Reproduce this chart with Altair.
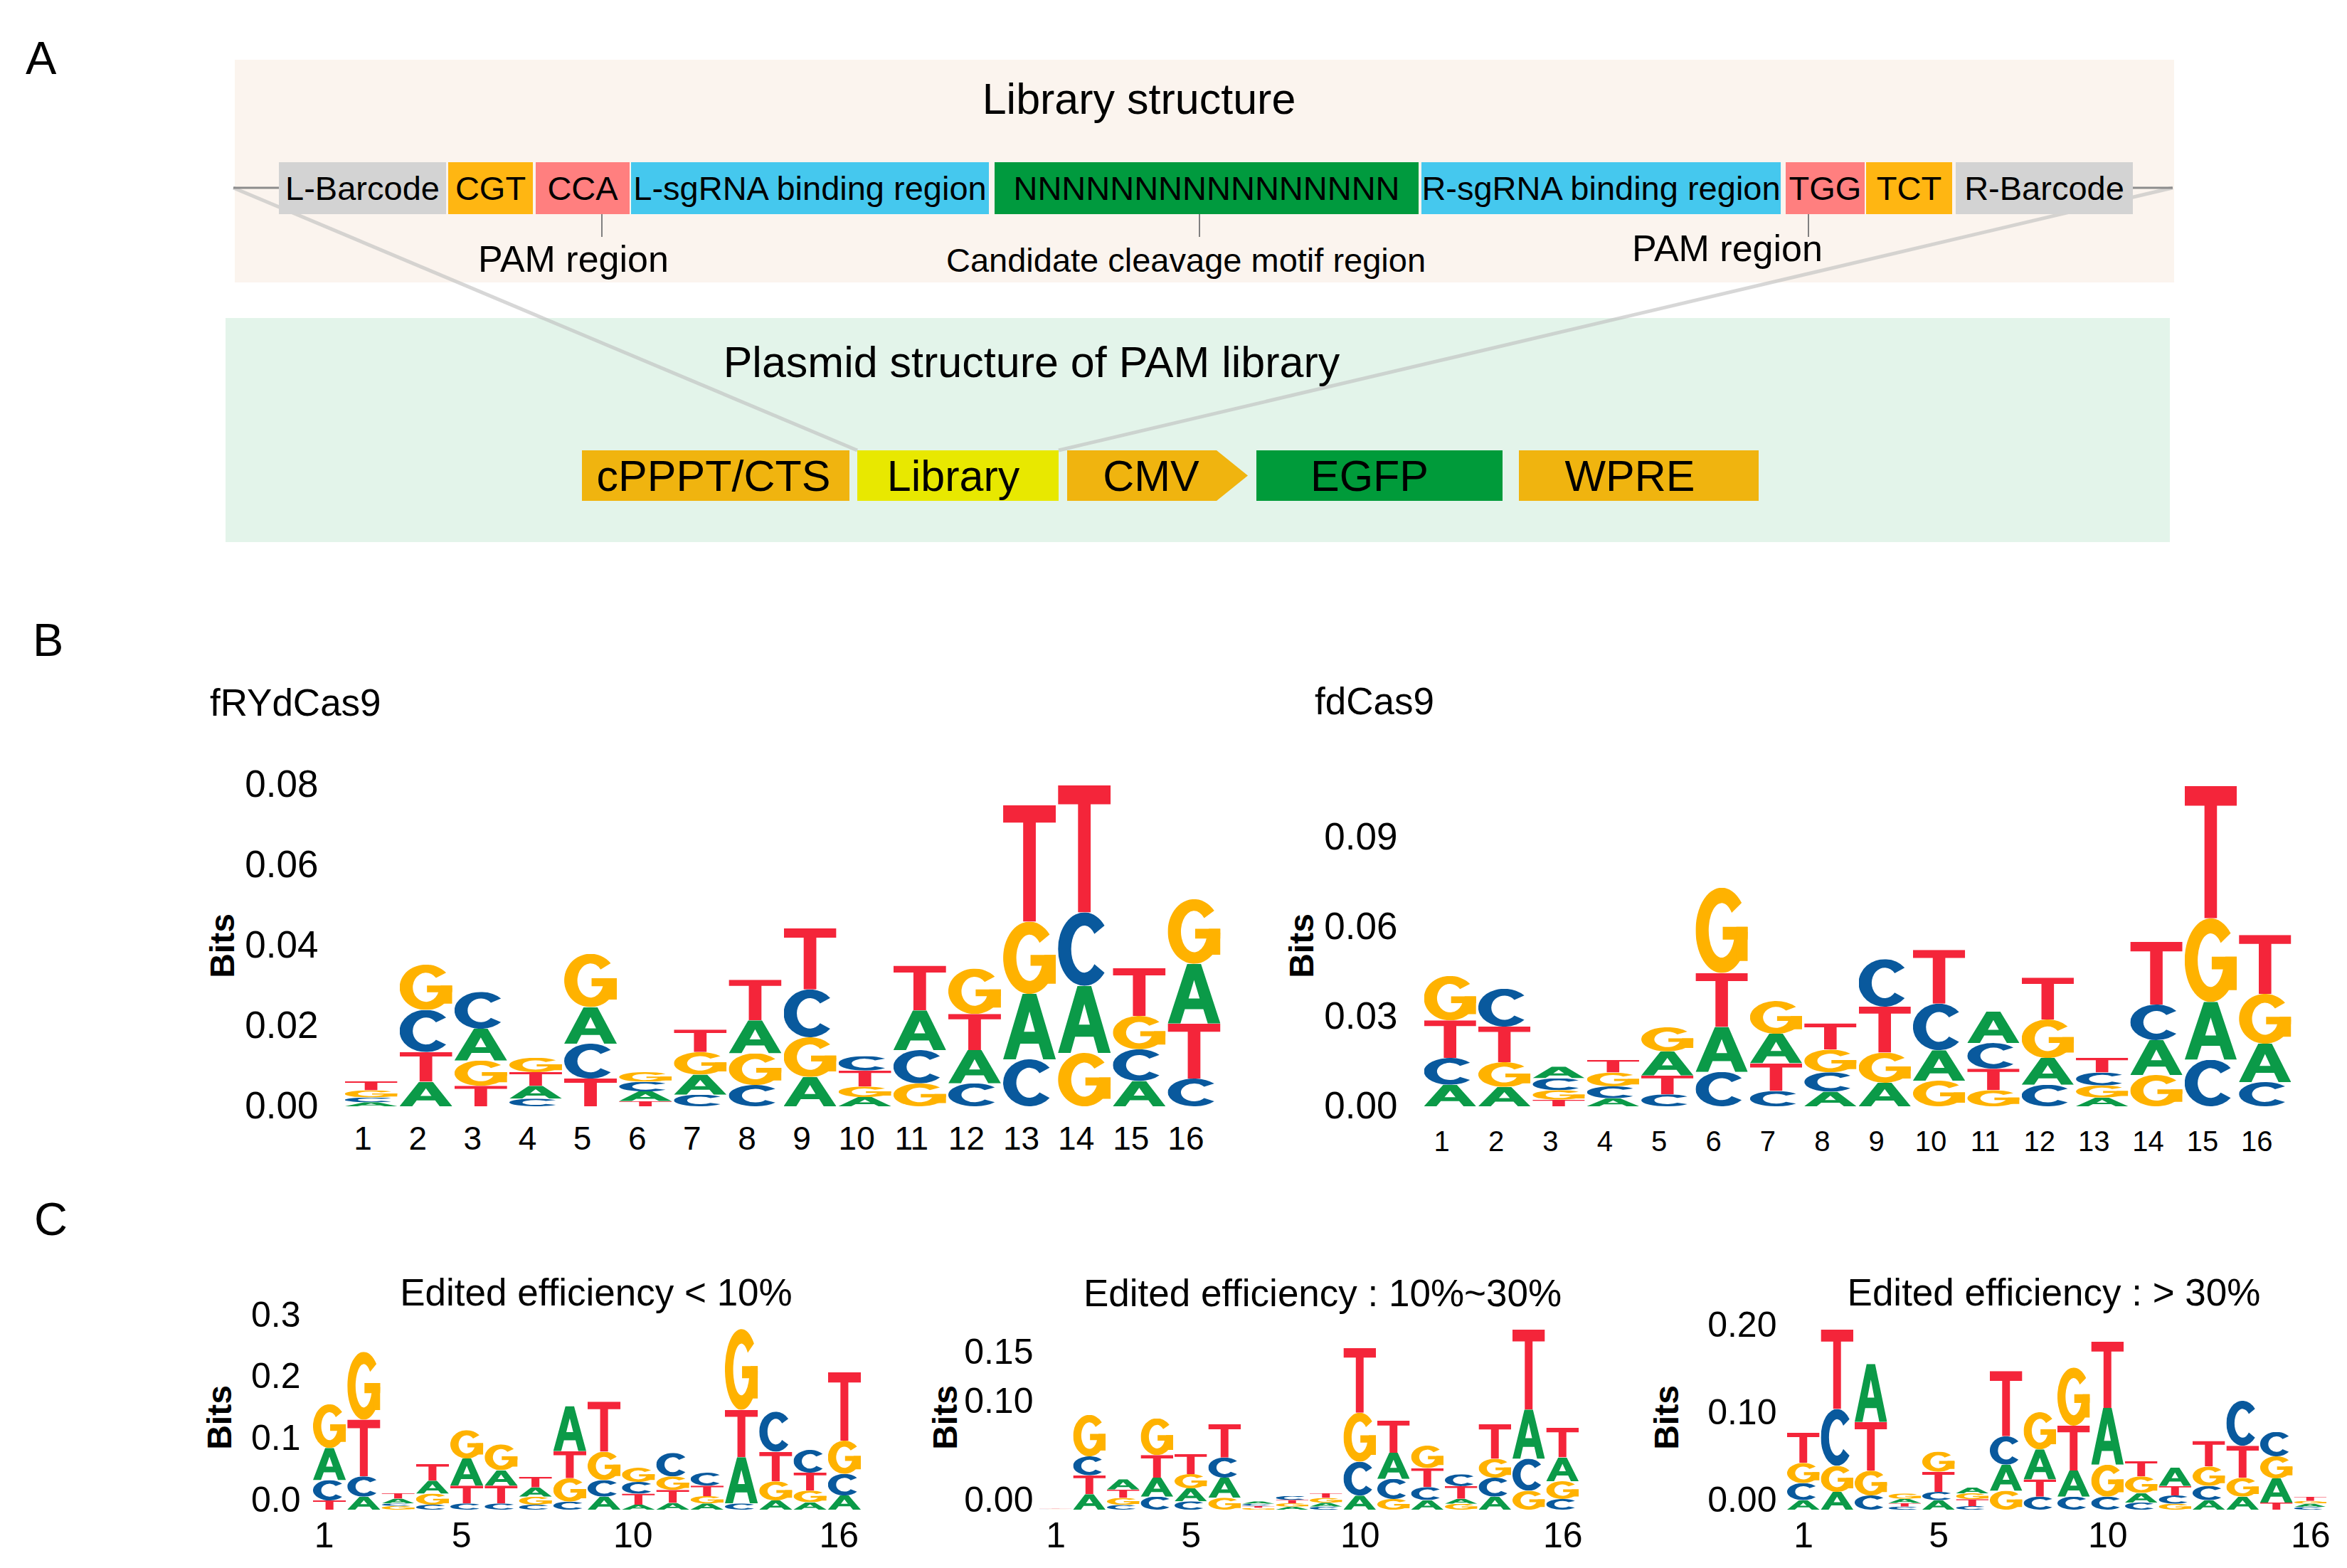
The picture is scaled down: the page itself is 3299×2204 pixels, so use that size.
import base64
import pandas as pd
import altair as alt

FONT = "Liberation Sans"

# ---------------- Panel A : diagram data (page-pixel units) ----------------
BG_X0 = [330, 317]
BG_X1 = [3056, 3050]
BG_Y0 = [84, 447]
BG_Y1 = [397, 762]
BG_COLORS = ["#FBF4EE", "#E3F4EA"]

LIB_LABELS = ["L-Barcode", "CGT", "CCA", "L-sgRNA binding region", "NNNNNNNNNNNNNNNN",
              "R-sgRNA binding region", "TGG", "TCT", "R-Barcode"]
LIB_X0 = [392, 630, 753, 887, 1398, 1998, 2510, 2623, 2749]
LIB_X1 = [627, 749, 885, 1390, 1994, 2503, 2621, 2744, 2998]
LIB_COLORS = ["#D3D3D3", "#FFB612", "#FF7F7F", "#45C8EE", "#009A3E",
              "#45C8EE", "#FF7F7F", "#FFB612", "#D3D3D3"]
LIB_Y0, LIB_Y1, LIB_TEXT_Y = 228, 301, 281

PLA_LABELS = ["cPPPT/CTS", "Library", "EGFP", "WPRE"]
PLA_X0 = [818, 1205, 1766, 2135]
PLA_X1 = [1194, 1488, 2112, 2472]
PLA_COLORS = ["#F0B40F", "#E8E800", "#009B3A", "#F0B40F"]
PLA_TEXT_X = [1003, 1340, 1925, 2291]
CMV_X = [1500, 1710, 1754]
CMV_TOP = [633, 633, 668.5]
CMV_BOT = [704, 704, 668.5]
CMV_TEXT_X = 1618
PLA_Y0, PLA_Y1, PLA_TEXT_Y = 633, 704, 690

CONN_X0 = [328, 2998]
CONN_X1 = [392, 3054]
CONN_Y = [264, 264]
DIAG_X0 = [328, 3054]
DIAG_Y0 = [264, 264]
DIAG_X1 = [1205, 1488]
DIAG_Y1 = [633, 633]
TICK_X = [846, 1686, 2542]
TICK_Y0, TICK_Y1 = 301, 333

NOTE_TEXT = ["Library structure", "Plasmid structure of PAM library", "PAM region",
             "Candidate cleavage motif region", "PAM region"]
NOTE_X = [1601, 1450, 806, 1667, 2428]
NOTE_Y = [160, 530, 382, 382, 367]
NOTE_FS = [61, 61, 52, 47, 52]

# ---------------- Panel B / C : sequence logo data ----------------
B_TITLES = ["fRYdCas9", "fdCas9"]
B_LEFT_LETTERS = ["ACGT", "ATCG", "TGAC", "CATG", "TCAG", "TACG", "CAGT", "CGAT",
                  "AGCT", "AGTC", "GCAT", "CATG", "CAGT", "GACT", "ACGT", "CTAG"]
B_LEFT_BITS = [
    [0.0010, 0.0012, 0.0018, 0.0022], [0.0061, 0.0074, 0.0105, 0.0113],
    [0.0051, 0.0063, 0.0079, 0.0092], [0.0019, 0.0032, 0.0034, 0.0036],
    [0.0069, 0.0087, 0.0091, 0.0133], [0.0013, 0.0024, 0.0024, 0.0024],
    [0.0029, 0.0050, 0.0056, 0.0056], [0.0053, 0.0079, 0.0082, 0.0101],
    [0.0073, 0.0099, 0.0119, 0.0152], [0.0023, 0.0026, 0.0040, 0.0036],
    [0.0057, 0.0083, 0.0099, 0.0111], [0.0057, 0.0083, 0.0090, 0.0113],
    [0.0117, 0.0163, 0.0180, 0.0290], [0.0133, 0.0167, 0.0183, 0.0317],
    [0.0063, 0.0079, 0.0083, 0.0119], [0.0069, 0.0137, 0.0149, 0.0161]]

B_RIGHT_LETTERS = ["ACTG", "AGTC", "TGCA", "ACGT", "CTAG", "CATG", "CTAG", "ACGT",
                   "AGTC", "GACT", "GTCA", "CAGT", "AGCT", "GACT", "CAGT", "CAGT"]
B_RIGHT_BITS = [
    [0.0072, 0.0090, 0.0126, 0.0149], [0.0065, 0.0083, 0.0119, 0.0127],
    [0.0022, 0.0032, 0.0040, 0.0039], [0.0027, 0.0040, 0.0046, 0.0043],
    [0.0040, 0.0063, 0.0081, 0.0081], [0.0115, 0.0151, 0.0181, 0.0286],
    [0.0051, 0.0093, 0.0099, 0.0110], [0.0049, 0.0065, 0.0076, 0.0088],
    [0.0079, 0.0101, 0.0154, 0.0159], [0.0086, 0.0102, 0.0156, 0.0180],
    [0.0054, 0.0072, 0.0086, 0.0106], [0.0072, 0.0090, 0.0129, 0.0140],
    [0.0029, 0.0041, 0.0043, 0.0049], [0.0105, 0.0117, 0.0119, 0.0210],
    [0.0156, 0.0194, 0.0280, 0.0444], [0.0081, 0.0129, 0.0167, 0.0197]]

C_TITLES = ["Edited efficiency < 10%", "Edited efficiency : 10%~30%", "Edited efficiency : > 30%"]
C1_LETTERS = ["TCAG", "ACTG", "GCAT", "CGAT", "CTAG", "CTAG", "CGAT", "CGTA",
              "ACGT", "ATCG", "ATGC", "AGTC", "CATG", "AGTC", "AGTC", "ACGT"]
C1_BITS = [
    [0.015, 0.033, 0.052, 0.071], [0.021, 0.033, 0.092, 0.110], [0.006, 0.004, 0.008, 0.009],
    [0.008, 0.018, 0.021, 0.027], [0.010, 0.029, 0.044, 0.046], [0.010, 0.029, 0.025, 0.042],
    [0.008, 0.013, 0.015, 0.017], [0.013, 0.038, 0.044, 0.073], [0.021, 0.027, 0.046, 0.081],
    [0.008, 0.018, 0.019, 0.023], [0.011, 0.021, 0.022, 0.038], [0.010, 0.012, 0.017, 0.021],
    [0.010, 0.075, 0.077, 0.131], [0.015, 0.031, 0.048, 0.065], [0.012, 0.019, 0.029, 0.037],
    [0.023, 0.035, 0.054, 0.111]]

C2_LETTERS = ["ACGT", "ATCG", "CGTA", "CATG", "CAGT", "GACT", "GTCA", "AGTC",
              "CAGT", "ACGT", "GCAT", "ACTG", "GATC", "ACGT", "GCAT", "CGAT"]
C2_BITS = [
    [0.0003, 0.0003, 0.0003, 0.0003], [0.0157, 0.0193, 0.0193, 0.0423],
    [0.0048, 0.0072, 0.0085, 0.0104], [0.0133, 0.0193, 0.0230, 0.0375],
    [0.0085, 0.0133, 0.0145, 0.0205], [0.0121, 0.0205, 0.0205, 0.0338],
    [0.0018, 0.0020, 0.0022, 0.0025], [0.0030, 0.0035, 0.0035, 0.0040],
    [0.0030, 0.0040, 0.0050, 0.0050], [0.0143, 0.0345, 0.0500, 0.0660],
    [0.0109, 0.0205, 0.0266, 0.0326], [0.0097, 0.0133, 0.0193, 0.0230],
    [0.0060, 0.0050, 0.0130, 0.0120], [0.0133, 0.0193, 0.0193, 0.0350],
    [0.0193, 0.0326, 0.0500, 0.0817], [0.0109, 0.0181, 0.0242, 0.0302]]

C3_LETTERS = ["ACGT", "AGCT", "CGTA", "CTAG", "ACTG", "CTGA", "GACT", "CTAG",
              "CATG", "CGAT", "CAGT", "GCTA", "ACGT", "AGTC", "TAGC", "CAGT"]
C3_BITS = [
    [0.0109, 0.0196, 0.0231, 0.0348], [0.0204, 0.0299, 0.0652, 0.0910],
    [0.0163, 0.0285, 0.0557, 0.0666], [0.0035, 0.0040, 0.0050, 0.0060],
    [0.0109, 0.0095, 0.0231, 0.0231], [0.0040, 0.0080, 0.0068, 0.0068],
    [0.0217, 0.0299, 0.0326, 0.0747], [0.0149, 0.0198, 0.0345, 0.0427],
    [0.0149, 0.0299, 0.0516, 0.0666], [0.0149, 0.0367, 0.0652, 0.0761],
    [0.0082, 0.0109, 0.0190, 0.0177], [0.0068, 0.0095, 0.0109, 0.0212],
    [0.0109, 0.0163, 0.0223, 0.0293], [0.0149, 0.0217, 0.0367, 0.0516],
    [0.0082, 0.0277, 0.0253, 0.0280], [0.0030, 0.0040, 0.0030, 0.0050]]

# ---------------- letter glyphs (stretchable) ----------------
LETTER_COLORS = {"A": "#0B9A48", "C": "#09599D", "G": "#FFB200", "T": "#F4253A"}
LETTER_PATHS = {
    "A": ["M0,100 L37,0 L63,0 L100,100 L76,100 L67.5,76 L32.5,76 L24,100 Z M39.5,58 L60.5,58 L50,27 Z"],
    "C": ["M88.3,17.9 A50,50 0 1 0 88.3,82.1 L69.15,70.57 A25,32 0 1 1 69.15,29.43 Z"],
    "G": ["M88.3,17.9 A50,50 0 1 0 100,52 L75,52 A25,32 0 1 1 69.15,29.43 Z",
          "M52,46 H100 V61 H52 Z", "M78,46 H100 V86 H78 Z"],
    "T": ["M0,0 H100 V15 H62 V100 H38 V15 H0 Z"],
}


def letter_uri(letter):
    paths = "".join('<path d="%s" fill="%s" fill-rule="evenodd"/>' % (d, LETTER_COLORS[letter])
                    for d in LETTER_PATHS[letter])
    svg = ('<svg xmlns="http://www.w3.org/2000/svg" width="100" height="100" '
           'viewBox="0 0 100 100" preserveAspectRatio="none">%s</svg>' % paths)
    return "data:image/svg+xml;base64," + base64.b64encode(svg.encode()).decode()


LETTER_URI = {k: letter_uri(k) for k in "ACGT"}

# ---------------- Panel A chart ----------------
XS = alt.Scale(domain=[8, 3288], nice=False, zero=False)
YS = alt.Scale(domain=[8, 811], nice=False, zero=False, reverse=True)


def rect_layer(df):
    return alt.Chart(df).mark_rect().encode(
        x=alt.X("x0:Q", scale=XS, axis=None), x2="x1:Q",
        y=alt.Y("y0:Q", scale=YS, axis=None), y2="y1:Q",
        color=alt.Color("color:N", scale=None))


def rule_layer(df, width, color, opacity=1.0):
    return alt.Chart(df).mark_rule(strokeWidth=width, color=color, opacity=opacity).encode(
        x=alt.X("x0:Q", scale=XS, axis=None), x2="x1:Q",
        y=alt.Y("y0:Q", scale=YS, axis=None), y2="y1:Q")


def text_layer(df, align="center"):
    return alt.Chart(df).mark_text(font=FONT, align=align, baseline="alphabetic", color="black").encode(
        x=alt.X("x:Q", scale=XS, axis=None), y=alt.Y("y:Q", scale=YS, axis=None),
        text="label:N", size=alt.Size("fs:Q", scale=None))


bg = rect_layer(pd.DataFrame({"x0": BG_X0, "x1": BG_X1, "y0": BG_Y0, "y1": BG_Y1, "color": BG_COLORS}))
diag = rule_layer(pd.DataFrame({"x0": DIAG_X0, "x1": DIAG_X1, "y0": DIAG_Y0, "y1": DIAG_Y1}), 5, "#BDBDBD", 0.6)
conn = rule_layer(pd.DataFrame({"x0": CONN_X0, "x1": CONN_X1, "y0": CONN_Y, "y1": CONN_Y}), 3, "#8C8C8C")
ticks = rule_layer(pd.DataFrame({"x0": TICK_X, "x1": TICK_X, "y0": [TICK_Y0] * 3, "y1": [TICK_Y1] * 3}), 2, "#808080")
lib = rect_layer(pd.DataFrame({"x0": LIB_X0, "x1": LIB_X1, "y0": [LIB_Y0] * 9, "y1": [LIB_Y1] * 9,
                               "color": LIB_COLORS}))
pla = rect_layer(pd.DataFrame({"x0": PLA_X0, "x1": PLA_X1, "y0": [PLA_Y0] * 4, "y1": [PLA_Y1] * 4,
                               "color": PLA_COLORS}))
cmv = alt.Chart(pd.DataFrame({"x": CMV_X, "top": CMV_TOP, "bot": CMV_BOT})).mark_area(
    color="#F0B40F", opacity=1).encode(
    x=alt.X("x:Q", scale=XS, axis=None), y=alt.Y("top:Q", scale=YS, axis=None), y2="bot:Q")

lib_text = alt.Chart(pd.DataFrame({"label": LIB_LABELS, "x0": LIB_X0, "x1": LIB_X1})).transform_calculate(
    x="(datum.x0 + datum.x1) / 2", y=str(LIB_TEXT_Y), fs="47").mark_text(
    font=FONT, align="center", baseline="alphabetic", color="black").encode(
    x=alt.X("x:Q", scale=XS, axis=None), y=alt.Y("y:Q", scale=YS, axis=None),
    text="label:N", size=alt.Size("fs:Q", scale=None))
pla_text = text_layer(pd.DataFrame({"label": PLA_LABELS + ["CMV"], "x": PLA_TEXT_X + [CMV_TEXT_X],
                                    "y": [PLA_TEXT_Y] * 5, "fs": [61] * 5}))
notes = text_layer(pd.DataFrame({"label": NOTE_TEXT, "x": NOTE_X, "y": NOTE_Y, "fs": NOTE_FS}))
label_a = text_layer(pd.DataFrame({"label": ["A"], "x": [36], "y": [104], "fs": [65]}), align="left")

panel_a = alt.layer(bg, diag, conn, ticks, lib, pla, cmv, lib_text, pla_text, notes, label_a).properties(
    width=3280, height=803)


# ---------------- logo charts ----------------
def logo(letters, bits, ymax, yvals, yfmt, width, height, ylab_fs, ylab_pad, yext, ytpad, ylab_off,
         xvals, xlab_fs, xlab_pad, xlab_off, title):
    rows = []
    for p, (ls, hs) in enumerate(zip(letters, bits), start=1):
        for k, (l, h) in enumerate(zip(ls, hs)):
            rows.append({"pos": p, "letter": l, "bits": h, "rank": k, "url": LETTER_URI[l]})
    df = pd.DataFrame(rows)
    return alt.Chart(df).transform_stack(
        stack="bits", groupby=["pos"], as_=["lo", "hi"],
        sort=[alt.SortField(field="rank", order="ascending")]
    ).transform_calculate(
        left="datum.pos - 0.48", right="datum.pos + 0.48"
    ).mark_image(aspect=False).encode(
        x=alt.X("left:Q", scale=alt.Scale(domain=[0.5, 16.5], nice=False, zero=False),
                axis=alt.Axis(values=xvals, format="d", labelFontSize=xlab_fs, labelPadding=xlab_pad,
                              labelOffset=xlab_off, labelFlush=False, labelOverlap=False),
                title=None),
        x2="right:Q",
        y=alt.Y("lo:Q", scale=alt.Scale(domain=[0, ymax], nice=False, zero=True),
                axis=alt.Axis(values=yvals, format=yfmt, labelFontSize=ylab_fs, labelPadding=ylab_pad,
                              minExtent=yext, maxExtent=yext, titlePadding=ytpad, labelOffset=ylab_off,
                              labelFlush=False, labelOverlap=False),
                title="Bits"),
        y2="hi:Q",
        url=alt.Url("url:N"),
    ).properties(width=width, height=height, title=title)


def spacer(letter, width, height, dx, offset):
    return alt.Chart(pd.DataFrame({"v": [0]})).mark_point(opacity=0).encode(
        x=alt.X("v:Q", axis=None), y=alt.Y("v:Q", axis=None)
    ).properties(width=width, height=height,
                 title=alt.TitleParams(letter, anchor="start", frame="group", dx=dx, offset=offset,
                                       baseline="alphabetic", fontSize=65, fontWeight="normal",
                                       font=FONT, color="black"))


def tparams(text, anchor, dx, offset):
    return alt.TitleParams(text, anchor=anchor, frame="group", dx=dx, offset=offset,
                           baseline="alphabetic", fontSize=53, fontWeight="normal",
                           font=FONT, color="black")


ALL_POS = list(range(1, 17))
b_left = logo(B_LEFT_LETTERS, B_LEFT_BITS, 0.0801, [0, 0.02, 0.04, 0.06, 0.08], ".2f", 1234, 452,
              53, 36, 139, 6, 0, ALL_POS, 46, 24, -12, tparams(B_TITLES[0], "start", -188, 19))
b_right = logo(B_RIGHT_LETTERS, B_RIGHT_BITS, 0.1078, [0, 0.03, 0.06, 0.09], ".2f", 1222, 452,
               53, 36, 139, 6, 0, ALL_POS, 40, 30, -12, tparams(B_TITLES[1], "start", -152, 46))

C_TICKS = [1, 5, 10, 16]
c1 = logo(C1_LETTERS, C1_BITS, 0.3, [0, 0.1, 0.2, 0.3], ".1f", 772, 260,
          50, 17, 87, 18, -13, C_TICKS, 50, 12, -8, tparams(C_TITLES[0], "middle", 13, -64))
c2 = logo(C2_LETTERS, C2_BITS, 0.1884, [0, 0.10, 0.15], ".2f", 760, 260,
          50, 8, 105, 1, -13, C_TICKS, 50, 12, 0, tparams(C_TITLES[1], "middle", 19, -27))
c3 = logo(C3_LETTERS, C3_BITS, 0.2122, [0, 0.10, 0.20], ".2f", 760, 260,
          50, 14, 111, 32, -13, C_TICKS, 50, 12, 0, tparams(C_TITLES[2], "middle", -4, -49))

row_b = alt.hconcat(spacer("B", 192, 452, 38, 116), b_left, b_right, spacing=90)
row_c = alt.hconcat(spacer("C", 183, 260, 40, 61), c1, c2, c3, spacing=95)

chart = alt.vconcat(panel_a, row_b, row_c, spacing=59).properties(
    padding=0, background="white"
).configure_view(stroke=None).configure_axis(
    domain=False, ticks=False, tickSize=0, grid=False,
    labelFont=FONT, titleFont=FONT, labelColor="black", titleColor="black",
    titleFontSize=48, titleFontWeight="bold"
).configure_title(font=FONT, color="black")

chart.save("out.html", embed_options={"renderer": "svg", "actions": False})
